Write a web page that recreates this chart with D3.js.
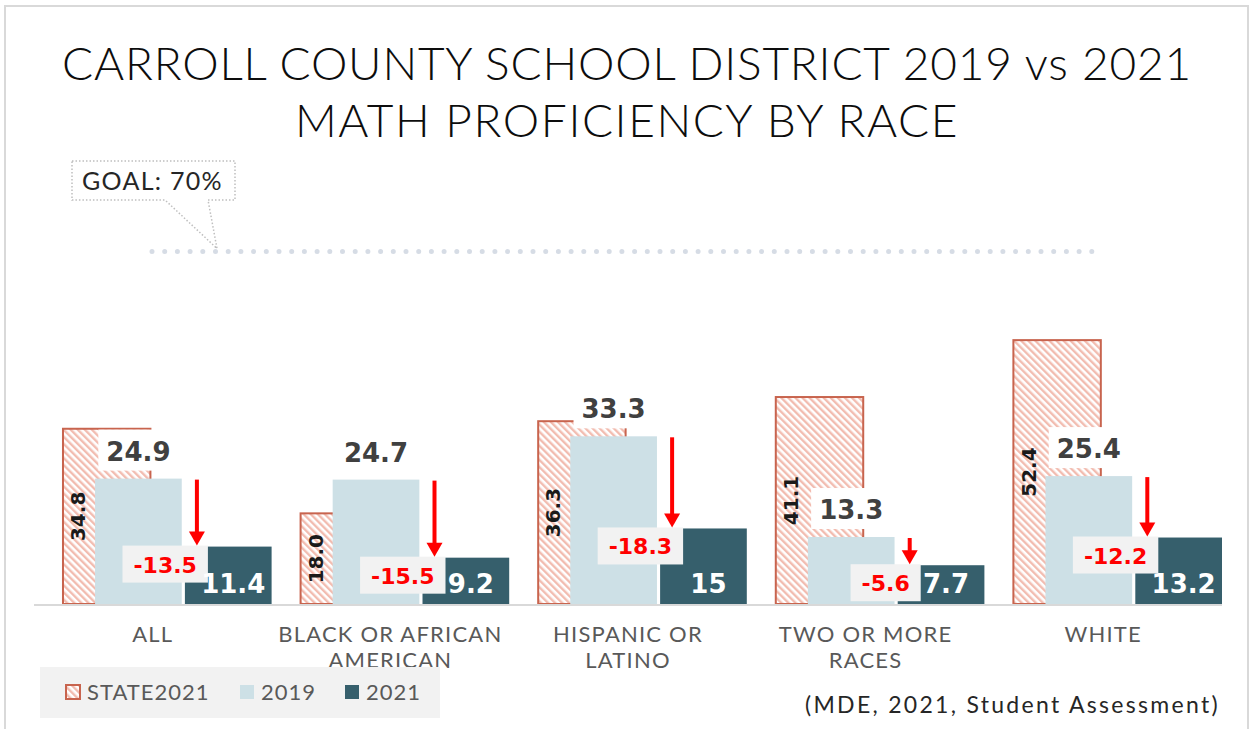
<!DOCTYPE html>
<html>
<head>
<meta charset="utf-8">
<script src="https://cdn.jsdelivr.net/npm/d3@7"></script>
<style>
  body { margin: 0; background: #fff; }
  svg { display: block; }
</style>
</head>
<body>
<svg id="chart" width="1251" height="729"></svg>
<script>
// data
const groups = ["ALL", "BLACK OR AFRICAN AMERICAN", "HISPANIC OR LATINO", "TWO OR MORE RACES", "WHITE"];
const groupLines = [["ALL"], ["BLACK OR AFRICAN", "AMERICAN"], ["HISPANIC OR", "LATINO"], ["TWO OR MORE", "RACES"], ["WHITE"]];
const state2021 = [34.8, 18.0, 36.3, 41.1, 52.4];
const v2019 = [24.9, 24.7, 33.3, 13.3, 25.4];
const v2021 = [11.4, 9.2, 15, 7.7, 13.2];
const change = [-13.5, -15.5, -18.3, -5.6, -12.2];
const goal = 70;
const legendItems = ["STATE2021", "2019", "2021"];

const titleLines = ["CARROLL COUNTY SCHOOL DISTRICT 2019 vs 2021", "MATH PROFICIENCY BY RACE"];
const sourceText = "(MDE, 2021, Student Assessment)";

const lightFont = "Lato, 'Open Sans', sans-serif";
const boldFont = "'DejaVu Sans', sans-serif";
const c2019 = "#cde0e6", c2021 = "#365f6c", cState = "#c8644e";
const fmt1 = v => v.toFixed(1);   // plain hyphen minus, like the source

const svg = d3.select("#chart");

// frame
svg.append("rect")
  .attr("x", 5).attr("y", 6).attr("width", 1243).attr("height", 740)
  .attr("fill", "none").attr("stroke", "#d9d9d9").attr("stroke-width", 2);

// hatch for state bars
const defs = svg.append("defs");
const pat = defs.append("pattern")
  .attr("id", "hatch")
  .attr("patternUnits", "userSpaceOnUse")
  .attr("width", 5).attr("height", 5)
  .attr("patternTransform", "rotate(-45)");
pat.append("rect").attr("width", 5).attr("height", 5).attr("fill", "#fff");
pat.append("line").attr("x1", 1.2).attr("x2", 1.2).attr("y1", 0).attr("y2", 5)
  .attr("stroke", "#f2bcb0").attr("stroke-width", 2.4);

// helper: stretch letter spacing so a line spans a given width
function fitSpacing(sel, target) {
  const n = sel.text().length;
  const w = sel.node().getComputedTextLength();
  sel.attr("letter-spacing", ((target - w) / n).toFixed(2));
}

// title
titleLines.forEach((t, i) => {
  const tt = svg.append("text")
    .attr("x", 627).attr("y", i === 0 ? 80 : 137)
    .attr("text-anchor", "middle")
    .style("font-family", lightFont)
    .style("font-weight", 300)
    .style("font-size", "46px")
    .attr("fill", "#0d0d0d")
    .text(t);
  fitSpacing(tt, i === 0 ? 1130 : 664);
});

// scales
const x = d3.scaleBand().domain(groups).range([34, 1222]);
const bw = x.bandwidth();
const y = d3.scaleLinear().domain([0, goal]).range([604, 251.5]);
const xState = d3.scaleBand().domain(["STATE2021"]).range([0.122 * bw, 0.49 * bw]);
const xPair = d3.scaleBand().domain(["2019", "2021"]).range([0.257 * bw, bw]).paddingInner(0.035);

const rows = groups.map((g, i) => ({
  g, lines: groupLines[i], state: state2021[i], a: v2019[i], b: v2021[i], d: change[i]
}));

// goal line + callout
svg.append("line")
  .attr("x1", 152).attr("x2", 1100)
  .attr("y1", y(goal)).attr("y2", y(goal))
  .attr("stroke", "#d6dce5").attr("stroke-width", 5)
  .attr("stroke-linecap", "round")
  .attr("stroke-dasharray", "0 12.7");

svg.append("path")
  .attr("d", `M72,161 H235 V200 H208 L217,${y(goal) - 3} L165,200 H72 Z`)
  .attr("fill", "#fff")
  .attr("stroke", "#bfbfbf").attr("stroke-width", 1.5)
  .attr("stroke-dasharray", "1.5 2");
const goalTxt = svg.append("text")
  .attr("x", 82).attr("y", 190)
  .style("font-family", lightFont).style("font-size", "25px")
  .attr("fill", "#262626")
  .text("GOAL: " + goal + "%");
fitSpacing(goalTxt, 141);

// bars
const g = svg.append("g");
g.selectAll("rect.state").data(rows).enter().append("rect")
  .attr("class", "state")
  .attr("x", d => x(d.g) + xState("STATE2021"))
  .attr("width", xState.bandwidth())
  .attr("y", d => y(d.state))
  .attr("height", d => y(0) - y(d.state))
  .attr("fill", "url(#hatch)")
  .attr("stroke", cState).attr("stroke-width", 2);

g.selectAll("rect.a").data(rows).enter().append("rect")
  .attr("x", d => x(d.g) + xPair("2019"))
  .attr("width", xPair.bandwidth())
  .attr("y", d => y(d.a))
  .attr("height", d => y(0) - y(d.a))
  .attr("fill", c2019);

g.selectAll("rect.b").data(rows).enter().append("rect")
  .attr("x", d => x(d.g) + xPair("2021"))
  .attr("width", xPair.bandwidth())
  .attr("y", d => y(d.b))
  .attr("height", d => y(0) - y(d.b))
  .attr("fill", c2021);

// axis baseline
svg.append("line")
  .attr("x1", 34).attr("x2", 1222)
  .attr("y1", y(0) + 1).attr("y2", y(0) + 1)
  .attr("stroke", "#d9d9d9").attr("stroke-width", 2);

// state labels (rotated)
g.selectAll("text.state").data(rows).enter().append("text")
  .attr("transform", d => `translate(${x(d.g) + xState("STATE2021") + 15},${(y(d.state) + y(0)) / 2}) rotate(-90)`)
  .attr("text-anchor", "middle")
  .attr("dy", "0.36em")
  .style("font-family", boldFont).style("font-weight", "bold").style("font-size", "20px")
  .attr("fill", "#1a1a1a")
  .text(d => fmt1(d.state));

// 2019 labels with white box
rows.forEach(d => {
  const cx = x(d.g) + xPair("2019") + xPair.bandwidth() / 2;
  const t = g.append("text")
    .attr("x", cx).attr("y", y(d.a) - 18)
    .attr("text-anchor", "middle")
    .style("font-family", boldFont).style("font-weight", "bold").style("font-size", "26px")
    .attr("fill", "#404040")
    .text(fmt1(d.a));
  const w = t.node().getComputedTextLength() + 16;
  g.insert("rect", () => t.node())
    .attr("x", cx - w / 2).attr("y", y(d.a) - 49)
    .attr("width", w).attr("height", 41)
    .attr("fill", "#fff");
});

// change boxes and arrows
rows.forEach(d => {
  const left = x(d.g) + xPair("2021");
  const t = g.append("text")
    .attr("y", y(d.b) + 26)
    .attr("text-anchor", "middle")
    .style("font-family", boldFont).style("font-weight", "bold").style("font-size", "22px")
    .attr("fill", "#ff0000")
    .text(fmt1(d.d));
  const w = t.node().getComputedTextLength() + 22;
  const bx = left + 23 - w;
  t.attr("x", bx + w / 2);
  g.insert("rect", () => t.node())
    .attr("x", bx).attr("y", y(d.b) - 1)
    .attr("width", w).attr("height", 37)
    .attr("fill", "#f2f2f2");

  const ax = left + 12;
  const top = y(d.a) + 1, tip = y(d.b) - 1;
  g.append("line")
    .attr("x1", ax).attr("x2", ax)
    .attr("y1", top).attr("y2", tip - 10)
    .attr("stroke", "#ff0000").attr("stroke-width", 4);
  g.append("path")
    .attr("d", `M${ax - 8},${tip - 14} L${ax + 8},${tip - 14} L${ax},${tip} Z`)
    .attr("fill", "#ff0000");
});

// 2021 labels inside base
g.selectAll("text.b").data(rows).enter().append("text")
  .attr("x", d => x(d.g) + xPair("2021") + xPair.bandwidth() / 2 + 5)
  .attr("y", y(0) - 11)
  .attr("text-anchor", "middle")
  .style("font-family", boldFont).style("font-weight", "bold").style("font-size", "26px")
  .attr("fill", "#fff")
  .text(d => String(d.b));

// category labels
rows.forEach(d => {
  const t = svg.append("text")
    .attr("text-anchor", "middle")
    .style("font-family", lightFont).style("font-size", "22px")
    .attr("letter-spacing", 1.2)
    .attr("fill", "#595959");
  d.lines.forEach((ln, i) => {
    t.append("tspan")
      .attr("x", x(d.g) + bw / 2)
      .attr("y", 642 + i * 26)
      .text(ln);
  });
});

// legend
const lg = svg.append("g");
lg.append("rect").attr("x", 40).attr("y", 667).attr("width", 400).attr("height", 51).attr("fill", "#f2f2f2");
const legX = [66, 240, 345];
const legFill = ["url(#hatch)", c2019, c2021];
legendItems.forEach((name, i) => {
  lg.append("rect")
    .attr("x", legX[i]).attr("y", 685)
    .attr("width", 14).attr("height", 14)
    .attr("fill", legFill[i])
    .attr("stroke", i === 0 ? cState : "none").attr("stroke-width", 2);
  lg.append("text")
    .attr("x", legX[i] + 21).attr("y", 700)
    .style("font-family", lightFont).style("font-size", "22px")
    .attr("letter-spacing", 1)
    .attr("fill", "#595959")
    .text(name);
});

// source
const src = svg.append("text")
  .attr("x", 805).attr("y", 713)
  .style("font-family", lightFont).style("font-size", "23px")
  .attr("fill", "#262626")
  .text(sourceText);
fitSpacing(src, 415);
</script>
</body>
</html>
